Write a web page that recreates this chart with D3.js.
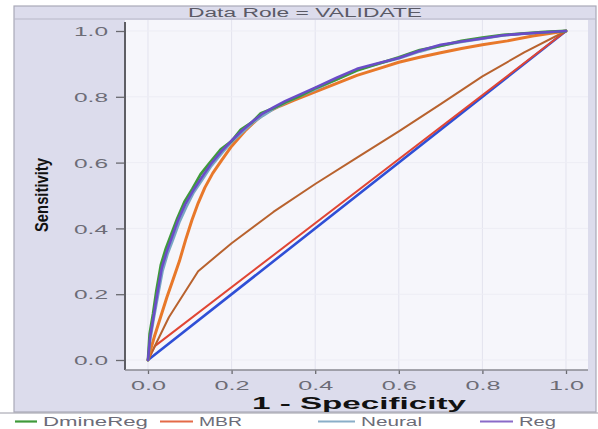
<!DOCTYPE html>
<html>
<head>
<meta charset="utf-8">
<script src="https://cdn.jsdelivr.net/npm/d3@7"></script>
<style>
  html, body { margin: 0; padding: 0; background: #ffffff; }
  svg { display: block; }
</style>
</head>
<body>
<svg id="chart" width="598" height="429"></svg>
<script>
// ---------- data ----------
const chartTitle = "Data Role = VALIDATE";
const xLabel = "1 - Specificity";
const yLabel = "Sensitivity";
const tickValues = [0, 0.2, 0.4, 0.6, 0.8, 1.0];
const tickLabels = ["0.0", "0.2", "0.4", "0.6", "0.8", "1.0"];

const legendNames = ["DmineReg", "MBR", "Neural", "Reg"];

// 1 - specificity / sensitivity pairs
const regX  = [0, 0.005, 0.013, 0.022, 0.033, 0.045, 0.057, 0.072, 0.089, 0.108, 0.128, 0.15, 0.176, 0.2, 0.224, 0.25, 0.272, 0.3, 0.328, 0.36, 0.4, 0.45, 0.5, 0.55, 0.6, 0.65, 0.7, 0.75, 0.8, 0.85, 0.9, 0.95, 1];
const regY  = [0, 0.07, 0.13, 0.2, 0.28, 0.33, 0.372, 0.425, 0.473, 0.515, 0.554, 0.595, 0.635, 0.667, 0.696, 0.725, 0.747, 0.768, 0.787, 0.805, 0.828, 0.857, 0.885, 0.902, 0.918, 0.94, 0.958, 0.968, 0.977, 0.987, 0.992, 0.996, 1];

const dmineX = [0, 0.004, 0.012, 0.02, 0.031, 0.043, 0.055, 0.07, 0.087, 0.106, 0.126, 0.148, 0.174, 0.2, 0.222, 0.248, 0.27, 0.3, 0.33, 0.36, 0.4, 0.45, 0.5, 0.55, 0.6, 0.65, 0.7, 0.75, 0.8, 0.85, 0.9, 0.95, 1];
const dmineY = [0, 0.08, 0.14, 0.21, 0.29, 0.34, 0.38, 0.43, 0.48, 0.52, 0.565, 0.6, 0.64, 0.665, 0.7, 0.722, 0.75, 0.765, 0.784, 0.8, 0.826, 0.852, 0.88, 0.9, 0.92, 0.942, 0.955, 0.97, 0.98, 0.988, 0.993, 0.997, 1];

const neuralX = [0, 0.006, 0.014, 0.024, 0.035, 0.047, 0.06, 0.075, 0.092, 0.11, 0.13, 0.152, 0.178, 0.2, 0.226, 0.25, 0.275, 0.3, 0.33, 0.36, 0.4, 0.45, 0.5, 0.55, 0.6, 0.65, 0.7, 0.75, 0.8, 0.85, 0.9, 0.95, 1];
const neuralY = [0, 0.065, 0.125, 0.195, 0.27, 0.322, 0.365, 0.418, 0.465, 0.51, 0.548, 0.59, 0.63, 0.662, 0.692, 0.72, 0.742, 0.762, 0.782, 0.8, 0.822, 0.852, 0.882, 0.9, 0.916, 0.937, 0.955, 0.966, 0.976, 0.986, 0.992, 0.996, 1];

const mbrX = [0, 0.006, 0.015, 0.03, 0.045, 0.06, 0.075, 0.09, 0.105, 0.12, 0.136, 0.155, 0.176, 0.2, 0.232, 0.26, 0.28, 0.316, 0.35, 0.4, 0.45, 0.5, 0.55, 0.6, 0.65, 0.7, 0.75, 0.8, 0.86, 0.92, 1];
const mbrY = [0, 0.03, 0.07, 0.13, 0.19, 0.245, 0.3, 0.365, 0.425, 0.477, 0.524, 0.568, 0.607, 0.65, 0.696, 0.73, 0.75, 0.772, 0.79, 0.815, 0.84, 0.865, 0.885, 0.905, 0.92, 0.934, 0.947, 0.958, 0.97, 0.985, 1];

const midCurveX = [0, 0.05, 0.12, 0.2, 0.3, 0.4, 0.5, 0.6, 0.7, 0.8, 0.9, 1];
const midCurveY = [0, 0.13, 0.27, 0.355, 0.45, 0.535, 0.615, 0.695, 0.778, 0.862, 0.935, 1];

const lowLineX = [0, 0.017, 1];
const lowLineY = [0, 0.043, 1];

const baselineX = [0, 1];
const baselineY = [0, 1];

// ---------- styling ----------
const colors = {
  dmine: "#3f9a3a",
  mbr: "#e8782a",
  neural: "#78a6c4",
  reg: "#6a4cc8",
  mid: "#b8622e",
  low: "#e04634",
  base: "#2f4fd6"
};
const legendColors = ["#3f9a3a", "#e46a48", "#8aaec8", "#8a6ac8"];

const svg = d3.select("#chart");

const x = d3.scaleLinear().domain([0, 1]).range([148, 566]);
const y = d3.scaleLinear().domain([0, 1]).range([360, 31]);

const fontSans = "'Liberation Sans', Arial, sans-serif";

// outer panel
svg.append("rect").attr("x", 14).attr("y", 6).attr("width", 582).attr("height", 406)
  .attr("fill", "#dcdcec").attr("stroke", "#a9a9b8").attr("stroke-width", 1.2);
svg.append("line").attr("x1", 14).attr("x2", 596).attr("y1", 19).attr("y2", 19)
  .attr("stroke", "#b8b8c8").attr("stroke-width", 1);

// plot area
svg.append("rect").attr("x", 125).attr("y", 20).attr("width", 463).attr("height", 350)
  .attr("fill", "#f6f6fb");

// gridlines
svg.append("g").selectAll("line").data(tickValues).join("line")
  .attr("x1", d => x(d)).attr("x2", d => x(d)).attr("y1", 20).attr("y2", 370)
  .attr("stroke", "#e3e3ee").attr("stroke-width", 1);
svg.append("g").selectAll("line").data(tickValues).join("line")
  .attr("x1", 125).attr("x2", 588).attr("y1", d => y(d)).attr("y2", d => y(d))
  .attr("stroke", "#ededf4").attr("stroke-width", 1);

// title
svg.append("text").attr("x", 305).attr("y", 16.5).attr("text-anchor", "middle")
  .attr("font-family", fontSans).attr("font-size", 12).attr("fill", "#5a5a66")
  .attr("textLength", 234).attr("lengthAdjust", "spacingAndGlyphs")
  .text(chartTitle);

// axes
const yAxis = d3.axisLeft(y).tickValues(tickValues).tickFormat((d, i) => tickLabels[i])
  .tickSize(8).tickSizeOuter(0).tickPadding(5);
const gy = svg.append("g").attr("transform", "translate(124,0)").call(yAxis);
gy.select(".domain").remove();
gy.selectAll(".tick line").attr("stroke", "#6a6a70").attr("stroke-width", 1.3);
gy.selectAll(".tick text").attr("font-family", fontSans).attr("font-size", 13)
  .attr("fill", "#6c6c76").attr("textLength", 34).attr("lengthAdjust", "spacingAndGlyphs")
  .attr("x", -16).attr("dy", "0.36em");

const xAxis = d3.axisBottom(x).tickValues(tickValues).tickFormat((d, i) => tickLabels[i])
  .tickSize(4).tickSizeOuter(0).tickPadding(7);
const gx = svg.append("g").attr("transform", "translate(0,370)").call(xAxis);
gx.select(".domain").remove();
gx.selectAll(".tick line").attr("stroke", "#6a6a70").attr("stroke-width", 1.3);
gx.selectAll(".tick text").attr("font-family", fontSans).attr("font-size", 12.5)
  .attr("fill", "#6c6c76").attr("textLength", 35).attr("lengthAdjust", "spacingAndGlyphs");

svg.append("line").attr("x1", 125).attr("x2", 125).attr("y1", 22).attr("y2", 370)
  .attr("stroke", "#5e5e64").attr("stroke-width", 2);
svg.append("line").attr("x1", 125).attr("x2", 588).attr("y1", 370).attr("y2", 370)
  .attr("stroke", "#8a8a92").attr("stroke-width", 1.5);

// axis labels
svg.append("text").attr("x", 359).attr("y", 409).attr("text-anchor", "middle")
  .attr("font-family", fontSans).attr("font-weight", "bold").attr("font-size", 17)
  .attr("fill", "#111").attr("textLength", 214).attr("lengthAdjust", "spacingAndGlyphs")
  .text(xLabel);
svg.append("text").attr("transform", "translate(48,195) rotate(-90)").attr("text-anchor", "middle")
  .attr("font-family", "'Liberation Sans Narrow', 'Liberation Sans', Arial, sans-serif")
  .attr("font-weight", "bold").attr("font-size", 18).attr("fill", "#111")
  .attr("textLength", 74).attr("lengthAdjust", "spacingAndGlyphs")
  .text(yLabel);

// curves
const line = d3.line().x(d => x(d[0])).y(d => y(d[1]));
const series = [
  { xs: baselineX, ys: baselineY, color: colors.base, w: 2.6 },
  { xs: lowLineX, ys: lowLineY, color: colors.low, w: 2 },
  { xs: midCurveX, ys: midCurveY, color: colors.mid, w: 2 },
  { xs: mbrX, ys: mbrY, color: colors.mbr, w: 3 },
  { xs: neuralX, ys: neuralY, color: colors.neural, w: 2.4 },
  { xs: dmineX, ys: dmineY, color: colors.dmine, w: 2.8 },
  { xs: regX, ys: regY, color: colors.reg, w: 2.6 }
];
svg.append("g").selectAll("path").data(series).join("path")
  .attr("d", s => line(s.xs.map((v, i) => [v, s.ys[i]])))
  .attr("fill", "none").attr("stroke", s => s.color).attr("stroke-width", s => s.w)
  .attr("stroke-linejoin", "round").attr("stroke-linecap", "round");

// legend
svg.append("line").attr("x1", 0).attr("x2", 598).attr("y1", 413).attr("y2", 413)
  .attr("stroke", "#9a9aa6").attr("stroke-width", 1);
const legendLineX = [15, 160, 318, 480];
const legendLineW = [22, 33, 37, 33];
const legendTextW = [105, 43, 61, 37];
const lg = svg.append("g").selectAll("g").data(legendNames).join("g");
lg.append("line")
  .attr("x1", (d, i) => legendLineX[i]).attr("x2", (d, i) => legendLineX[i] + legendLineW[i])
  .attr("y1", 421.5).attr("y2", 421.5)
  .attr("stroke", (d, i) => legendColors[i]).attr("stroke-width", 2.2);
lg.append("text")
  .attr("x", (d, i) => legendLineX[i] + legendLineW[i] + 6).attr("y", 425.5)
  .attr("font-family", fontSans).attr("font-size", 12).attr("fill", "#6c6c78")
  .attr("textLength", (d, i) => legendTextW[i]).attr("lengthAdjust", "spacingAndGlyphs")
  .text(d => d);
</script>
</body>
</html>
